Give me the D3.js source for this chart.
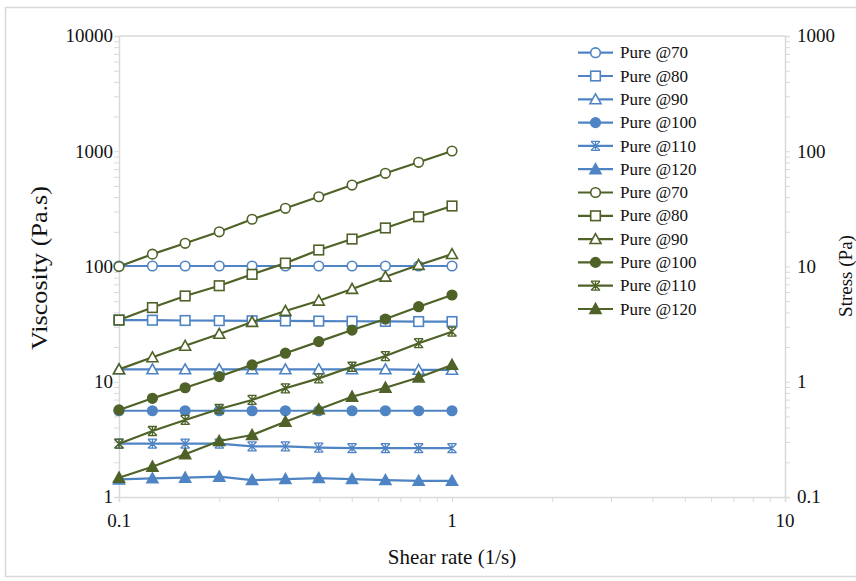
<!DOCTYPE html>
<html><head><meta charset="utf-8">
<script src="https://cdn.jsdelivr.net/npm/d3@7"></script>
<style>body{margin:0;background:#fff;} text{font-family:"Liberation Serif","DejaVu Serif",serif;}</style>
</head><body><svg id="c" width="856" height="581" font-family="Liberation Serif, DejaVu Serif, serif"></svg>
<script>
const shearRate = [0.1, 0.126, 0.158, 0.2, 0.251, 0.316, 0.398, 0.501, 0.631, 0.794, 1];
const seriesNames = ["Pure @70","Pure @80","Pure @90","Pure @100","Pure @110","Pure @120"];
const markerTypes = ["circleOpen","squareOpen","triangleOpen","circleFilled","asterisk","triangleFilled"];
// viscosity (left axis, Pa.s)
const visc70  = [101, 101, 101, 101, 101, 101, 101, 101, 101, 101, 101];
const visc80  = [34.3, 34.2, 34.0, 33.9, 33.8, 33.7, 33.6, 33.5, 33.4, 33.3, 33.3];
const visc90  = [12.8, 12.8, 12.8, 12.8, 12.8, 12.8, 12.8, 12.8, 12.8, 12.7, 12.7];
const visc100 = [5.6, 5.6, 5.6, 5.6, 5.6, 5.6, 5.6, 5.6, 5.6, 5.6, 5.6];
const visc110 = [2.9, 2.9, 2.9, 2.9, 2.75, 2.75, 2.68, 2.65, 2.65, 2.65, 2.65];
const visc120 = [1.42, 1.45, 1.47, 1.50, 1.40, 1.43, 1.46, 1.43, 1.40, 1.38, 1.38];
// stress (right axis, Pa)
const stress70  = [10.0, 12.8, 15.9, 20.0, 25.7, 32.0, 40.3, 50.9, 64.4, 80.2, 100.5];
const stress80  = [3.43, 4.40, 5.55, 6.81, 8.55, 10.7, 13.9, 17.3, 21.6, 27.0, 33.5];
const stress90  = [1.28, 1.63, 2.05, 2.60, 3.30, 4.11, 5.05, 6.38, 8.15, 10.3, 12.8];
const stress100 = [0.569, 0.718, 0.887, 1.11, 1.40, 1.77, 2.23, 2.81, 3.50, 4.48, 5.66];
const stress110 = [0.29, 0.374, 0.466, 0.580, 0.695, 0.877, 1.07, 1.35, 1.67, 2.16, 2.72];
const stress120 = [0.147, 0.183, 0.235, 0.306, 0.345, 0.450, 0.577, 0.742, 0.887, 1.09, 1.40];
const xTicks = [0.1, 1, 10];
const yLeftTicks = [1, 10, 100, 1000, 10000];
const yRightTicks = [0.1, 1, 10, 100, 1000];

const viscSeries = [visc70, visc80, visc90, visc100, visc110, visc120];
const stressSeries = [stress70, stress80, stress90, stress100, stress110, stress120];
const BLUE = "#4f84c4", GREEN = "#4f6228", AX = "#d9d9d9";
const FONT = "Liberation Serif, DejaVu Serif, serif";

const svg = d3.select("#c");
const L = 119, R = 785, T = 36, B = 497;
const x = d3.scaleLog().domain([0.1, 10]).range([L, R]);
const yL = d3.scaleLog().domain([1, 10000]).range([B, T]);
const yR = d3.scaleLog().domain([0.1, 1000]).range([B, T]);

// outer frame
svg.append("rect").attr("x",5.5).attr("y",7.5).attr("width",870).attr("height",569)
  .attr("fill","none").attr("stroke","#d9d9d9").attr("stroke-width",1.5);

function minorTicks(lo, hi){ const a=[]; for(let d=lo; d<hi; d*=10){ for(let k=1;k<10;k++) a.push(d*k);} a.push(hi); return a; }

// axes
const gL = svg.append("g").attr("transform",`translate(${L},0)`)
  .call(d3.axisLeft(yL).tickValues(minorTicks(1,10000)).tickSize(5).tickFormat(""));
const gR = svg.append("g").attr("transform",`translate(${R},0)`)
  .call(d3.axisRight(yR).tickValues(minorTicks(0.1,1000)).tickSize(5).tickFormat(""));
const gB = svg.append("g").attr("transform",`translate(0,${B})`)
  .call(d3.axisBottom(x).tickValues(minorTicks(0.1,10)).tickSize(5).tickFormat(""));
[gL,gR,gB].forEach(g=>{ g.select(".domain").attr("stroke",AX).attr("stroke-width",1.5); g.selectAll(".tick line").attr("stroke",AX).attr("stroke-width",1); });
svg.append("line").attr("x1",L).attr("x2",R).attr("y1",T).attr("y2",T).attr("stroke",AX).attr("stroke-width",1.5);

// tick labels
svg.append("g").selectAll("text").data(yLeftTicks).join("text")
  .attr("x",L-6).attr("y",d=>yL(d)).attr("dy","0.33em").attr("text-anchor","end")
  .attr("font-family",FONT).attr("font-size",19).attr("fill","#111").text(d=>d);
svg.append("g").selectAll("text").data(yRightTicks).join("text")
  .attr("x",R+12).attr("y",d=>yR(d)).attr("dy","0.33em").attr("text-anchor","start")
  .attr("font-family",FONT).attr("font-size",19).attr("fill","#111").text(d=>d);
svg.append("g").selectAll("text").data(xTicks).join("text")
  .attr("x",d=>x(d)).attr("y",B+30).attr("text-anchor","middle")
  .attr("font-family",FONT).attr("font-size",19).attr("fill","#111").text(d=>d);

// titles
svg.append("text").attr("x",x(1)).attr("y",564).attr("text-anchor","middle")
  .attr("font-family",FONT).attr("font-size",21).attr("fill","#111").text("Shear rate (1/s)");
svg.append("text").attr("transform","translate(47,268) rotate(-90)").attr("text-anchor","middle")
  .attr("font-family",FONT).attr("font-size",23).attr("textLength",164).attr("lengthAdjust","spacingAndGlyphs")
  .attr("fill","#111").text("Viscosity (Pa.s)");
svg.append("text").attr("transform","translate(852,276) rotate(-90)").attr("text-anchor","middle")
  .attr("font-family",FONT).attr("font-size",19).attr("fill","#111").text("Stress (Pa)");

function drawMarker(g, type, cx, cy, color){
  const sw = 1.6;
  if(type==="circleOpen"||type==="circleFilled"){
    g.append("circle").attr("cx",cx).attr("cy",cy).attr("r",4.8)
      .attr("fill",type==="circleFilled"?color:"#fff").attr("stroke",color).attr("stroke-width",sw);
  } else if(type==="squareOpen"){
    g.append("rect").attr("x",cx-4.8).attr("y",cy-4.8).attr("width",9.6).attr("height",9.6)
      .attr("fill","#fff").attr("stroke",color).attr("stroke-width",sw);
  } else if(type==="triangleOpen"||type==="triangleFilled"){
    const s=5.5;
    g.append("path").attr("d",`M${cx},${cy-s}L${cx+s},${cy+s*0.8}L${cx-s},${cy+s*0.8}Z`)
      .attr("fill",type==="triangleFilled"?color:"#fff").attr("stroke",color).attr("stroke-width",sw);
  } else if(type==="asterisk"){
    const s=4.5;
    g.append("path").attr("d",`M${cx-s},${cy-s}L${cx+s},${cy+s}M${cx-s},${cy+s}L${cx+s},${cy-s}M${cx},${cy-s-0.5}L${cx},${cy+s+0.5}M${cx-s},${cy-s}L${cx+s},${cy-s}M${cx-s},${cy+s}L${cx+s},${cy+s}`)
      .attr("fill","none").attr("stroke",color).attr("stroke-width",1.3);
  }
}

const line = (ys)=> d3.line().x((d,i)=>x(shearRate[i])).y(d=>ys(d));
function drawSeries(vals, scale, color, type){
  const g = svg.append("g");
  g.append("path").datum(vals).attr("d",line(scale)).attr("fill","none").attr("stroke",color).attr("stroke-width",2.2);
  vals.forEach((v,i)=>drawMarker(g,type,x(shearRate[i]),scale(v),color));
}
viscSeries.forEach((s,i)=>drawSeries(s,yL,BLUE,markerTypes[i]));
stressSeries.forEach((s,i)=>drawSeries(s,yR,GREEN,markerTypes[i]));

// legend
const legendItems = [];
seriesNames.forEach((n,i)=>legendItems.push({name:n,color:BLUE,type:markerTypes[i]}));
seriesNames.forEach((n,i)=>legendItems.push({name:n,color:GREEN,type:markerTypes[i]}));
const lg = svg.append("g");
legendItems.forEach((d,i)=>{
  const yy = 52.7 + i*23.3;
  lg.append("line").attr("x1",578).attr("x2",613).attr("y1",yy).attr("y2",yy).attr("stroke",d.color).attr("stroke-width",2.2);
  drawMarker(lg,d.type,595.5,yy,d.color);
  lg.append("text").attr("x",620).attr("y",yy).attr("dy","0.33em").attr("font-family",FONT).attr("font-size",17).attr("fill","#111").text(d.name);
});
</script></body></html>
